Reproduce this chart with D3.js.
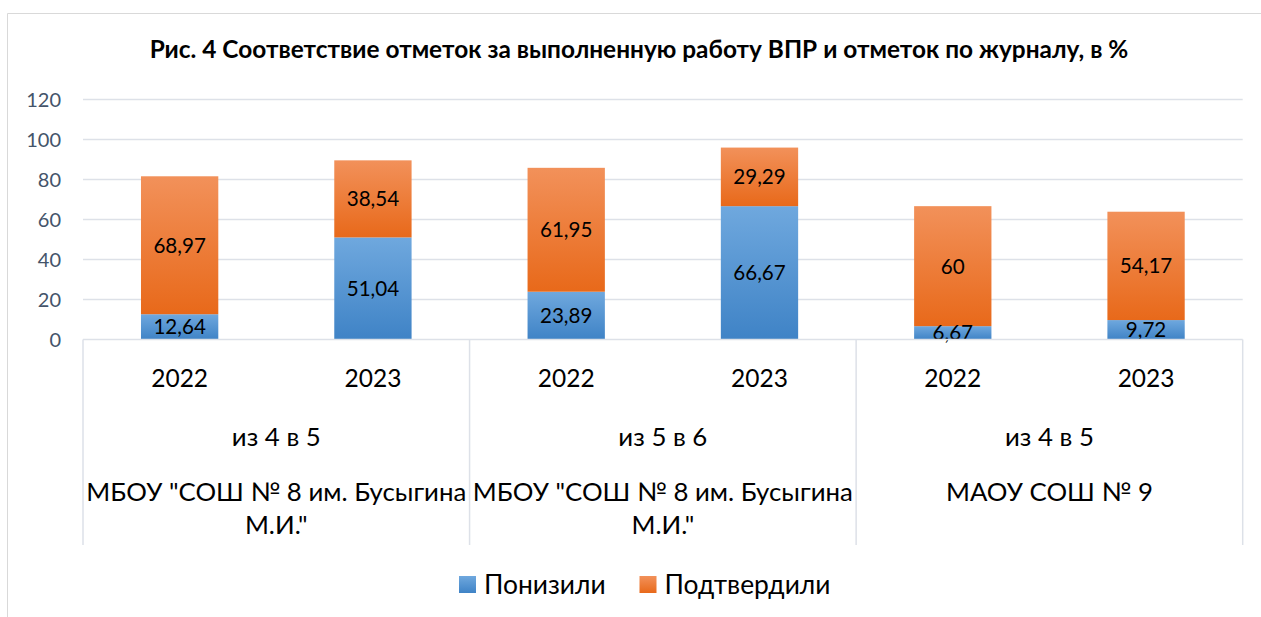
<!DOCTYPE html>
<html><head><meta charset="utf-8">
<script src="https://cdn.jsdelivr.net/npm/d3@7"></script>
<style>
html,body{margin:0;padding:0;background:#fff;}
svg{display:block;font-family:Lato,"Open Sans",sans-serif;}
</style></head>
<body>
<svg id="chart" width="1261" height="617"></svg>
<script>
const title = "Рис. 4 Соответствие отметок за выполненную работу ВПР и отметок по журналу, в %";
const years = ["2022","2023","2022","2023","2022","2023"];
const transitions = ["из 4 в 5","из 5 в 6","из 4 в 5"];
const schools = ["МБОУ \"СОШ № 8 им. Бусыгина М.И.\"","МБОУ \"СОШ № 8 им. Бусыгина М.И.\"","МАОУ СОШ № 9"];
const lowered = [12.64, 51.04, 23.89, 66.67, 6.67, 9.72];
const confirmed = [68.97, 38.54, 61.95, 29.29, 60, 54.17];
const seriesNames = ["Понизили","Подтвердили"];
const yTicks = [0,20,40,60,80,100,120];

(function(){
const svg = d3.select("#chart");
const W = 1261, H = 617;
const pL = 83, pR = 1242.7, pT = 99.5, pB = 339.5;

svg.append("path").attr("d", `M7.5,${H+2} V13.5 H${W+2}`).attr("fill","none").attr("stroke","#d9d9d9").attr("stroke-width",1);

const defs = svg.append("defs");
function grad(id, c1, c2){
  const g = defs.append("linearGradient").attr("id",id).attr("x1",0).attr("y1",0).attr("x2",0).attr("y2",1);
  g.append("stop").attr("offset","0%").attr("stop-color",c1);
  g.append("stop").attr("offset","100%").attr("stop-color",c2);
}
grad("gBlue","#6fa8de","#3f83c6");
grad("gOrange","#f2915a","#e8691a");

svg.append("text").attr("x",639).attr("y",58).attr("text-anchor","middle")
  .attr("font-weight","bold").attr("font-size",24.4).attr("fill","#000").text(title);

const x = d3.scaleBand().domain(d3.range(years.length)).range([pL,pR]).paddingInner(0.6).paddingOuter(0.3);
const y = d3.scaleLinear().domain([0,120]).range([pB,pT]);

svg.append("g").selectAll("line").data(yTicks.filter(d=>d>0)).join("line")
  .attr("x1",pL).attr("x2",pR).attr("y1",d=>y(d)).attr("y2",d=>y(d))
  .attr("stroke","#dde1e8").attr("stroke-width",1.5);

const yAxis = d3.axisLeft(y).tickValues(yTicks).tickSize(0).tickPadding(0);
const ya = svg.append("g").attr("transform",`translate(61,0)`).call(yAxis);
ya.select(".domain").remove();
ya.selectAll("text").attr("font-size",20).attr("fill","#44546a").attr("font-family","Lato").attr("dy","0.35em");

const stackData = years.map((d,i)=>({i, lowered:lowered[i], confirmed:confirmed[i]}));
const stacked = d3.stack().keys(["lowered","confirmed"])(stackData);
const fills = ["url(#gBlue)","url(#gOrange)"];
stacked.forEach((s,si)=>{
  svg.append("g").selectAll("rect").data(s).join("rect")
    .attr("x",d=>x(d.data.i)).attr("width",x.bandwidth())
    .attr("y",d=>y(d[1])).attr("height",d=>y(d[0])-y(d[1]))
    .attr("fill",fills[si]);
});
stacked.forEach((s,si)=>{
  svg.append("g").selectAll("text").data(s).join("text")
    .attr("x",d=>x(d.data.i)+x.bandwidth()/2)
    .attr("y",d=>(y(d[0])+y(d[1]))/2)
    .attr("dy","0.36em").attr("text-anchor","middle").attr("font-size",20.6).attr("fill","#000")
    .text(d=>String(d.data[s.key]).replace(".",","));
});

svg.append("line").attr("x1",pL).attr("x2",pR).attr("y1",pB).attr("y2",pB).attr("stroke","#dde1e8").attr("stroke-width",1.5);
const groupW = x.step()*2;
const seps = d3.range(transitions.length+1).map(k=>pL + k*groupW);
svg.append("g").selectAll("line").data(seps).join("line")
  .attr("x1",d=>d).attr("x2",d=>d).attr("y1",pB).attr("y2",545)
  .attr("stroke","#dde1e8").attr("stroke-width",1.5);

const xAxis = d3.axisBottom(x).tickFormat(i=>years[i]).tickSize(0).tickPadding(0);
const xa = svg.append("g").attr("transform",`translate(0,378)`).call(xAxis);
xa.select(".domain").remove();
xa.selectAll("text").attr("font-size",24.5).attr("fill","#000").attr("font-family","Lato").attr("dy","0.36em");

const catFs = 25.8;
svg.append("g").selectAll("text").data(transitions).join("text")
  .attr("x",(d,k)=>pL+groupW*(k+0.5)).attr("y",437).attr("dy","0.36em")
  .attr("text-anchor","middle").attr("font-size",catFs).attr("fill","#000").text(d=>d);

schools.forEach((s,k)=>{
  const cx = pL+groupW*(k+0.5);
  const t = svg.append("text").attr("x",cx).attr("y",492)
    .attr("text-anchor","middle").attr("font-size",catFs).attr("fill","#000");
  const words = s.split(" ");
  let lines = [], cur = [];
  const probe = svg.append("text").attr("font-size",catFs);
  words.forEach(w=>{
    const test = cur.concat([w]).join(" ");
    probe.text(test);
    if (probe.node().getComputedTextLength() > groupW+4 && cur.length){ lines.push(cur.join(" ")); cur=[w]; }
    else cur.push(w);
  });
  lines.push(cur.join(" "));
  probe.remove();
  lines.forEach((ln,li)=>{
    t.append("tspan").attr("x",cx).attr("dy",li===0?"0.36em":33).text(ln);
  });
});

const legend = svg.append("g");
const legItems = [{name:seriesNames[0],fill:"url(#gBlue)",x:459},{name:seriesNames[1],fill:"url(#gOrange)",x:639.5}];
legItems.forEach(it=>{
  legend.append("rect").attr("x",it.x).attr("y",576).attr("width",17).attr("height",17).attr("fill",it.fill);
  legend.append("text").attr("x",it.x+25).attr("y",584.5).attr("dy","0.36em").attr("font-size",26.4).attr("fill","#000").text(it.name);
});
})();
</script>
</body></html>
